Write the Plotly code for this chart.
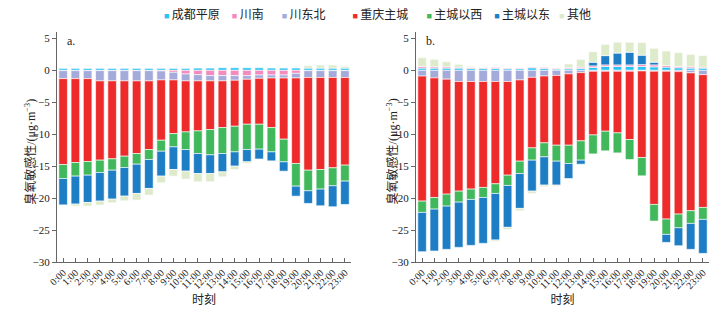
import plotly.graph_objects as go

hours = ["0:00", "1:00", "2:00", "3:00", "4:00", "5:00", "6:00", "7:00", "8:00", "9:00",
         "10:00", "11:00", "12:00", "13:00", "14:00", "15:00", "16:00", "17:00", "18:00",
         "19:00", "20:00", "21:00", "22:00", "23:00"]

series_names = ["成都平原", "川南", "川东北", "重庆主城", "主城以西", "主城以东", "其他"]
series_colors = ["#2CC3F2", "#F48BBE", "#A4AAD9", "#EE2B2B", "#40B85B", "#1D7EC5", "#DDEBCB"]

# panel a
a_chengdu = [0.3, 0.3, 0.3, 0.3, 0.3, 0.3, 0.3, 0.3, 0.3, 0.3, 0.3, 0.35, 0.35, 0.4, 0.4, 0.4,
             0.4, 0.4, 0.4, 0.4, 0.35, 0.35, 0.35, 0.35]
a_chuannan = [-0.05, -0.05, -0.05, -0.05, -0.05, -0.05, -0.05, -0.05, -0.1, -0.31, -0.57, -0.68,
              -0.83, -0.83, -0.83, -0.83, -0.73, -0.73, -0.73, -0.47, -0.05, -0.05, -0.05, -0.05]
a_chuandongbei = [-1.25, -1.25, -1.25, -1.6, -1.6, -1.6, -1.6, -1.6, -1.4, -1.19, -1.08, -0.97,
                  -0.82, -0.82, -0.72, -0.57, -0.52, -0.47, -0.47, -0.73, -1.07, -1.07, -1.07, -1.07]
a_cq_main = [-13.44, -13.13, -12.97, -12.41, -12.2, -11.79, -11.37, -10.75, -9.44, -8.4, -7.99,
             -7.83, -7.62, -7.31, -7.2, -7.04, -7.19, -7.76, -9.58, -13.38, -14.51, -14.4, -14.14,
             -13.72]
a_west = [-2.19, -2.13, -2.14, -1.93, -1.78, -1.77, -1.67, -1.56, -1.72, -2.08, -2.76, -3.54,
          -3.96, -4.06, -4.01, -3.96, -3.9, -3.8, -3.54, -3.55, -3.22, -3.07, -2.81, -2.5]
a_east = [-4.16, -4.38, -4.27, -4.48, -4.53, -4.48, -4.58, -4.53, -3.9, -3.54, -3.38, -3.13,
          -2.92, -2.87, -2.24, -1.92, -1.57, -1.41, -1.46, -1.56, -1.98, -2.61, -3.28, -3.65]
a_other = [-0.05, -0.31, -0.57, -0.62, -0.57, -0.73, -1.04, -1.04, -1.04, -1.04, -1.25, -1.3,
           -1.3, -0.78, -0.52, -0.26, -0.05, 0.0, 0.0, 0.0, 0.38, 0.48, 0.48, 0.28]

# panel b
b_chengdu = [0.35, 0.35, 0.35, 0.35, 0.3, 0.3, 0.3, 0.25, 0.25, 0.4, 0.3, 0.2, 0.25, 0.3, 0.45,
             0.6, 0.6, 0.6, 0.6, 0.55, 0.5, 0.4, 0.35, 0.35]
b_chuannan = [0.25, 0.2, 0.2, 0.15, 0.15, 0.15, 0.15, 0.1, 0.1, 0.1, 0.15, 0.1, 0.15, 0.2, 0.25,
              0.25, 0.25, 0.25, 0.3, 0.3, 0.25, 0.2, 0.2, 0.15]
b_chuandongbei = [-0.9, -1.18, -1.38, -1.75, -1.75, -1.75, -1.75, -1.75, -1.5, -1.1, -0.89, -0.8,
                  -0.55, -0.36, -0.15, -0.15, -0.15, -0.15, -0.1, -0.15, -0.15, -0.2, -0.4, -0.68]
b_cq_main = [-19.57, -18.72, -18.0, -17.16, -16.84, -16.58, -16.01, -14.66, -12.72, -11.04,
             -10.46, -10.92, -11.17, -10.68, -9.96, -9.38, -9.64, -10.68, -13.55, -20.84, -23.13,
             -22.3, -21.58, -20.78]
b_west = [-1.77, -1.82, -1.87, -1.72, -1.62, -1.57, -1.51, -1.61, -1.93, -1.92, -2.19, -2.5,
          -2.86, -3.02, -2.97, -3.07, -3.13, -3.13, -2.86, -2.6, -2.4, -2.14, -1.98, -1.87]
b_east = [-6.15, -6.56, -6.77, -7.08, -7.19, -7.18, -7.29, -6.56, -5.46, -4.85, -4.43, -3.75,
          -2.35, -0.63, 0.57, 1.45, 1.85, 1.98, 1.47, 0.42, -1.25, -2.81, -4.06, -5.32]
b_other = [1.38, 1.17, 0.8, 0.44, 0.18, 0.05, -0.21, -0.32, -0.37, -0.36, -0.26, -0.16, 0.59,
           1.22, 1.65, 1.76, 1.7, 1.57, 1.98, 2.18, 2.27, 2.16, 1.95, 1.8]

panel_a = [a_chengdu, a_chuannan, a_chuandongbei, a_cq_main, a_west, a_east, a_other]
panel_b = [b_chengdu, b_chuannan, b_chuandongbei, b_cq_main, b_west, b_east, b_other]

y_ticks = [-30, -25, -20, -15, -10, -5, 0, 5]
y_title = "臭氧敏感性/(μg·m<sup>−3</sup>)"
x_title = "时刻"

serif = "Liberation Serif, Noto Sans CJK SC, serif"

fig = go.Figure()
for name, color, va, vb in zip(series_names, series_colors, panel_a, panel_b):
    fig.add_trace(go.Bar(x=hours, y=va, name=name, legendgroup=name, showlegend=False,
                         marker=dict(color=color, line=dict(color="white", width=0.6)),
                         xaxis="x", yaxis="y"))
    fig.add_trace(go.Bar(x=hours, y=vb, name=name, legendgroup=name, showlegend=False,
                         marker=dict(color=color, line=dict(color="white", width=0.6)),
                         xaxis="x2", yaxis="y2"))

# compact legend row drawn as real text (coloured squares + names)
legend_gaps = [4, 6, 9, 6, 4, 3, 0]
pieces = []
for name, color, gap in zip(series_names, series_colors, legend_gaps):
    pieces.append(f'<span style="color:{color};font-size:9px">■</span>\u2009{name}' + "\u00a0" * gap)
legend_text = "".join(pieces)

xcommon = dict(type="category", showline=True, linecolor="#666", linewidth=1,
               ticks="inside", ticklen=4, tickcolor="#666", tickangle=-45,
               tickfont=dict(family=serif, size=10, color="#222"), showgrid=False,
               title=dict(text=x_title, font=dict(family=serif, size=12, color="#222"), standoff=5))
ycommon = dict(range=[-30, 6], tickvals=y_ticks, showline=True, linecolor="#666", linewidth=1,
               ticks="outside", ticklen=4, tickcolor="#666", zeroline=False, showgrid=False,
               tickfont=dict(family=serif, size=11, color="#222"))

title_font = dict(family=serif, size=12, color="#222")

# the page body adds an 8px margin, so the figure is sized to fit inside it
fig.update_layout(
    width=703, height=299,
    margin=dict(l=49, r=2, t=24, b=45, autoexpand=False),
    barmode="relative", bargap=0.3,
    plot_bgcolor="white", paper_bgcolor="white",
    showlegend=False,
    xaxis=dict(domain=[0, 0.451], anchor="y", **xcommon),
    xaxis2=dict(domain=[0.5506, 1.0], anchor="y2", **xcommon),
    yaxis=dict(anchor="x", **ycommon),
    yaxis2=dict(anchor="x2", **ycommon),
    annotations=[
        dict(text=legend_text, x=0.492, y=1.074, xref="paper", yref="paper", showarrow=False,
             xanchor="center", yanchor="middle",
             font=dict(family=serif, size=12, color="#222")),
        dict(text="a.", x=0.012, y=1.0, xref="paper", yref="paper", showarrow=False,
             xanchor="left", yanchor="top", font=dict(family=serif, size=12, color="#222")),
        dict(text="b.", x=0.5506 + 0.012, y=1.0, xref="paper", yref="paper", showarrow=False,
             xanchor="left", yanchor="top", font=dict(family=serif, size=12, color="#222")),
        dict(text=y_title, x=-0.041, y=0.48, xref="paper", yref="paper", showarrow=False,
             textangle=-90, xanchor="center", yanchor="middle", font=title_font),
        dict(text=y_title, x=0.515, y=0.48, xref="paper", yref="paper", showarrow=False,
             textangle=-90, xanchor="center", yanchor="middle", font=title_font),
    ],
)

fig.write_html("out.html")
